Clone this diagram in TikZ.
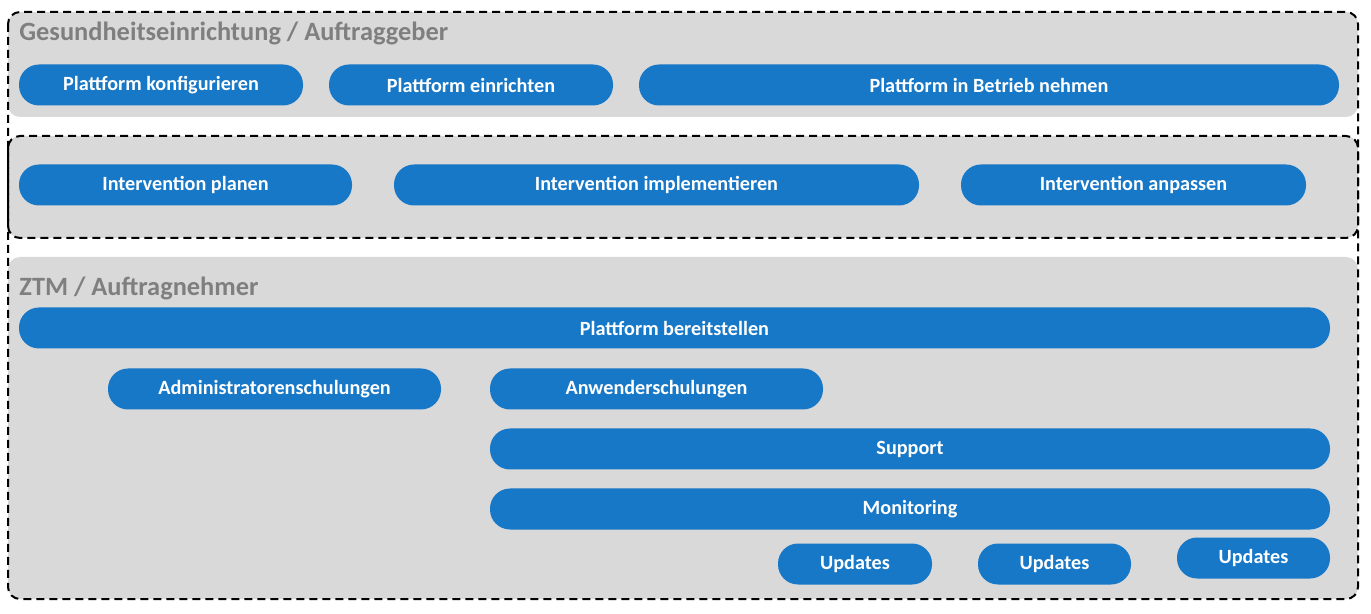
\documentclass[tikz,border=0pt]{standalone}
\usepackage{fontspec}
\setmainfont{Carlito}
\usepackage{tikz}
\usetikzlibrary{positioning}
\definecolor{pillblue}{HTML}{1878C8}
\definecolor{panelgray}{HTML}{D9D9D9}
\definecolor{labelgray}{HTML}{7F7F7F}
\tikzset{
  panel/.style   = {fill=panelgray, draw=none, rounded corners=6pt},
  frame/.style   = {draw=black, line width=1pt, dash pattern=on 4pt off 2.5pt,
                    rounded corners=6pt},
  pill/.style    = {rectangle, fill=pillblue, text=white, rounded corners=10pt,
                    minimum height=20.5pt, inner sep=0pt,
                    font=\bfseries\fontsize{10.1}{12}\selectfont},
  pillw/.style   = {minimum width=#1*0.5pt},
  grouplabel/.style = {anchor=west, text=labelgray, inner sep=0pt,
                    font=\bfseries\fontsize{13.2}{15}\selectfont}
}

\begin{document}
\begin{tikzpicture}[x=0.5pt,y=-0.5pt]
  \useasboundingbox (0,0) rectangle (1371,614);
  % Auftraggeber
  \path[panel] (8,12) rectangle (1358,117);
  \node[grouplabel] (ag) at (19,33) {Gesundheitseinrichtung / Auftraggeber};
  \node[pill, pillw=284] (konf) at (161,85)  {Plattform konfigurieren};
  \node[pill, pillw=284] (einr) at (471,85)  {Plattform einrichten};
  \node[pill, pillw=700] (betr) at (989,85)  {Plattform in Betrieb nehmen};
  % Intervention
  \path[panel] (8,136) rectangle (1358,238);
  \draw[frame] (8,136) rectangle (1358,238);
  \node[pill, pillw=333] (plan) at (185.5,185) {Intervention planen};
  \node[pill, pillw=525] (impl) at (656.5,185) {Intervention implementieren};
  \node[pill, pillw=345] (anp)  at (1133.5,185) {Intervention anpassen};
  % Auftragnehmer
  \path[panel] (8,257) rectangle (1358,599);
  \node[grouplabel] (an) at (19,288) {ZTM / Auftragnehmer};
  \node[pill, pillw=1311] (bereit) at (674.5,328) {Plattform bereitstellen};
  \node[pill, pillw=333] (admin)  at (274.5,389) {Administratorenschulungen};
  \node[pill, pillw=333] (anw)    at (656.5,389) {Anwenderschulungen};
  \node[pill, pillw=840] (supp)   at (910,449)   {Support};
  \node[pill, pillw=840] (moni)   at (910,509)   {Monitoring};
  \node[pill, pillw=154] (upd1)   at (855,564)   {Updates};
  \node[pill, pillw=153] (upd2)   at (1054.5,564) {Updates};
  \node[pill, pillw=153] (upd3)   at (1253.5,558) {Updates};
  % outer frame
  \draw[frame] (8,12) rectangle (1358,599);
\end{tikzpicture}
\end{document}
